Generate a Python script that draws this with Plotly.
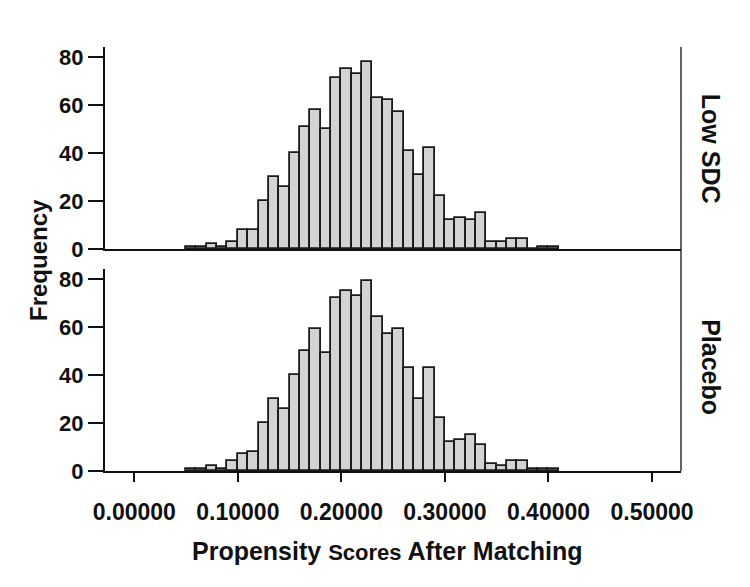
import plotly.graph_objects as go

# Bin left edges (bin width 0.01)
bin_left = [0.05, 0.06, 0.07, 0.08, 0.09, 0.10, 0.11, 0.12, 0.13, 0.14,
            0.15, 0.16, 0.17, 0.18, 0.19, 0.20, 0.21, 0.22, 0.23, 0.24,
            0.25, 0.26, 0.27, 0.28, 0.29, 0.30, 0.31, 0.32, 0.33, 0.34,
            0.35, 0.36, 0.37, 0.38, 0.39, 0.40]

low_sdc = [1, 1, 2, 1, 3, 8, 8, 20, 30, 26,
           40, 51, 58, 50, 71, 75, 73, 78, 63, 62,
           57, 41, 31, 42, 22, 12, 13, 12, 15, 3,
           3, 4, 4, 0, 1, 1]

placebo = [1, 1, 2, 1, 4, 7, 8, 20, 30, 26,
           40, 50, 59, 49, 72, 75, 73, 79, 64, 57,
           59, 43, 30, 43, 22, 12, 13, 15, 11, 3,
           2, 4, 4, 1, 1, 1]

x_ticks = [0.0, 0.1, 0.2, 0.3, 0.4, 0.5]
y_ticks = [0, 20, 40, 60, 80]
panel_labels = ["Low SDC", "Placebo"]

FONT = "Liberation Sans, Arial, Helvetica, sans-serif"
INK = "#111111"
FILL = "#d3d3d3"
BAR_LINE = "#1a1a1a"

fig = go.Figure()
fig.add_trace(go.Bar(x=bin_left, y=low_sdc, width=0.01, offset=0,
                     marker=dict(color=FILL, line=dict(color=BAR_LINE, width=1.8)),
                     xaxis="x", yaxis="y", showlegend=False))
fig.add_trace(go.Bar(x=bin_left, y=placebo, width=0.01, offset=0,
                     marker=dict(color=FILL, line=dict(color=BAR_LINE, width=1.8)),
                     xaxis="x2", yaxis="y2", showlegend=False))

xrange = [-0.0283, 0.528]
ytickfont = dict(family=FONT, size=22, color=INK, weight="bold")
xtickfont = dict(family=FONT, size=23, color=INK, weight="bold")

common_y = dict(range=[0, 84.1], tickvals=y_ticks, showline=True, linewidth=2,
                linecolor=INK, ticks="outside", ticklen=15, tickwidth=2,
                tickcolor=INK, showgrid=False, zeroline=False, tickfont=ytickfont,
                fixedrange=True)

fig.update_layout(
    width=750, height=587,
    margin=dict(l=97, r=77, t=39, b=124),
    paper_bgcolor="white", plot_bgcolor="white",
    bargap=0,
    xaxis=dict(domain=[0, 1], anchor="y", range=xrange, showline=True,
               linewidth=2, linecolor=INK, ticks="", showticklabels=False,
               showgrid=False, zeroline=False, tickvals=x_ticks),
    yaxis=dict(domain=[0.5236, 1], anchor="x", **common_y),
    xaxis2=dict(domain=[0, 1], anchor="y2", range=xrange, showline=True,
                linewidth=2, linecolor=INK, ticks="outside", ticklen=9,
                tickwidth=2, tickcolor=INK, tickvals=x_ticks,
                tickformat=".5f", showgrid=False, zeroline=False,
                tickfont=xtickfont, ticklabelstandoff=10),
    yaxis2=dict(domain=[0, 0.4764], anchor="x2", **common_y),
    shapes=[dict(type="line", xref="paper", yref="paper", x0=1, x1=1,
                 y0=0, y1=1, line=dict(color=INK, width=1.3))],
    annotations=[
        dict(text="Frequency", xref="paper", yref="paper", x=-0.1163, y=0.4976,
             textangle=-90, showarrow=False, xanchor="center", yanchor="middle",
             font=dict(family=FONT, size=24, color=INK, weight="bold")),
        dict(text="Propensity <span style='font-size:22px'>Scores</span> After Matching",
             xref="paper", yref="paper", x=0.49, y=-0.1887, showarrow=False,
             xanchor="center", yanchor="middle",
             font=dict(family=FONT, size=25, color=INK, weight="bold")),
        dict(text=panel_labels[0], xref="paper", yref="paper", x=1.052, y=0.76,
             textangle=90, showarrow=False, xanchor="center", yanchor="middle",
             font=dict(family=FONT, size=25, color=INK, weight="bold")),
        dict(text=panel_labels[1], xref="paper", yref="paper", x=1.052, y=0.245,
             textangle=90, showarrow=False, xanchor="center", yanchor="middle",
             font=dict(family=FONT, size=25, color=INK, weight="bold")),
    ],
)

fig.write_html("out.html")
